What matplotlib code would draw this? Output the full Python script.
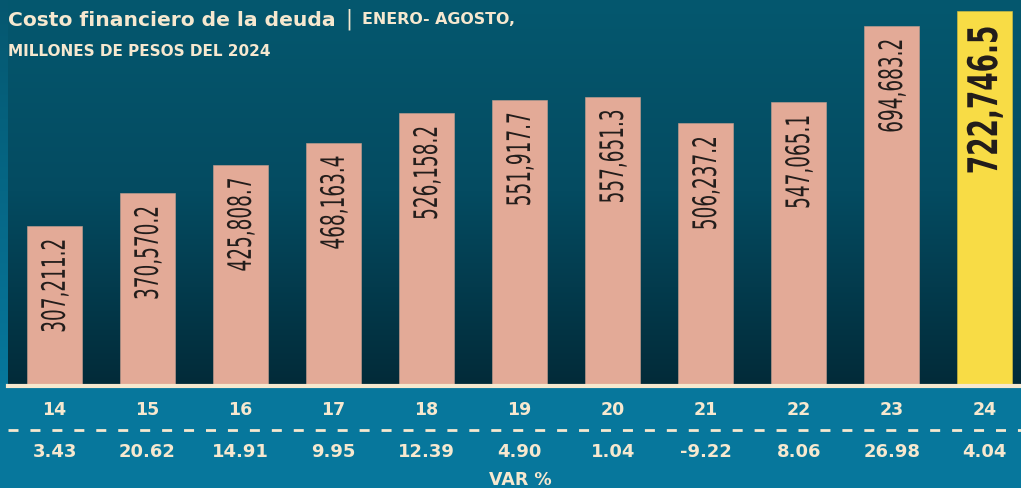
import numpy as np
import matplotlib
matplotlib.use("Agg")
import matplotlib.pyplot as plt
from matplotlib.colors import LinearSegmentedColormap
from matplotlib.transforms import blended_transform_factory, Affine2D
from matplotlib.lines import Line2D
from matplotlib.patheffects import AbstractPathEffect

years = ['14', '15', '16', '17', '18', '19', '20', '21', '22', '23', '24']
values = [307211.2, 370570.2, 425808.7, 468163.4, 526158.2, 551917.7,
          557651.3, 506237.2, 547065.1, 694683.2, 722746.5]
var_pct = ['3.43', '20.62', '14.91', '9.95', '12.39', '4.90', '1.04',
           '-9.22', '8.06', '26.98', '4.04']


class Condense(AbstractPathEffect):
    """Stretch glyph height (relative to text length) to mimic a condensed face."""

    def __init__(self, s):
        super().__init__()
        self.s = s

    def draw_path(self, renderer, gc, tpath, affine, rgbFace=None):
        ext = tpath.get_extents()
        cy = (ext.y0 + ext.y1) / 2
        aff = Affine2D().translate(0, -cy).scale(1, self.s).translate(0, cy) + affine
        renderer.draw_path(gc, tpath, aff, rgbFace)


W, H = 1021, 489
fig = plt.figure(figsize=(W / 100, H / 100), dpi=100)
fig.patch.set_facecolor('#07779c')

CREAM = '#f6e8cf'
SALMON = '#e3aa97'
YELLOW = '#f8dc45'
FONT = 'DejaVu Sans'

# left strip gradient
strip = fig.add_axes([0, (H - 385) / H, 8 / W, 385 / H])
strip.set_axis_off()
cm_strip = LinearSegmentedColormap.from_list('s', ['#05576f', '#07779c'])
strip.imshow(np.linspace(0, 1, 256).reshape(-1, 1), aspect='auto', cmap=cm_strip,
             extent=[0, 1, 0, 1], origin='upper')

# main panel
ax = fig.add_axes([8 / W, (H - 385) / H, (W - 8) / W, 385 / H])
ax.set_axis_off()
x = np.arange(len(years))
ax.set_xlim(-0.5, 10.39)
ax.set_ylim(0, 385 * 1940)
cm = LinearSegmentedColormap.from_list('g', ['#05586f', '#044b61', '#022b39'])
ax.imshow(np.linspace(0, 1, 256).reshape(-1, 1), aspect='auto', cmap=cm,
          extent=[-0.5, 10.39, 0, 385 * 1940], origin='upper', zorder=0)

colors = [SALMON] * (len(years) - 1) + [YELLOW]
bars = ax.bar(x, values, width=0.59, color=colors, edgecolor='#c9a090',
              linewidth=0.4, zorder=2)
bars[-1].set_edgecolor('#d8c040')

for i, v in enumerate(values):
    last = i == len(values) - 1
    t = ax.annotate(f"{v:,.1f}", (x[i], v), xytext=(1, -14 if last else -13),
                    textcoords='offset pixels', rotation=90, ha='center', va='top',
                    color='#231d1b',
                    fontsize=19 if last else 13.3,
                    fontweight='bold' if last else 'normal',
                    family=FONT, zorder=3)
    t.set_path_effects([Condense(1.55 if last else 1.75)])

# baseline
fig.add_artist(Line2D([8 / W, 1], [1 - 387 / H, 1 - 387 / H], color=CREAM, lw=3,
                      transform=fig.transFigure))

tr = blended_transform_factory(ax.transData, fig.transFigure)
for i, yl in enumerate(years):
    ax.text(x[i], 1 - 410 / H, yl, transform=tr, ha='center', va='center',
            color=CREAM, fontsize=12.5, fontweight='bold', family=FONT, clip_on=False)
    ax.text(x[i], 1 - 452 / H, var_pct[i], transform=tr, ha='center', va='center',
            color=CREAM, fontsize=13, fontweight='bold', family=FONT, clip_on=False)

fig.add_artist(Line2D([8 / W, 1], [1 - 431 / H, 1 - 431 / H], color=CREAM, lw=2,
                      linestyle=(0, (3.6, 4.3)), transform=fig.transFigure))

fig.text(520 / W, 1 - 480 / H, 'VAR %', ha='center', va='center', color=CREAM,
         fontsize=12.5, fontweight='bold', family=FONT)

# title
fig.text(8 / W, 1 - 20 / H, 'Costo financiero de la deuda', ha='left', va='center',
         color=CREAM, fontsize=14.6, fontweight='bold', family=FONT)
fig.text(345 / W, 1 - 19 / H, '|', ha='left', va='center',
         color=CREAM, fontsize=15, family=FONT)
fig.text(362 / W, 1 - 20 / H, 'ENERO- AGOSTO,', ha='left', va='center',
         color=CREAM, fontsize=11.4, fontweight='bold', family=FONT)
fig.text(8 / W, 1 - 52 / H, 'MILLONES DE PESOS DEL 2024', ha='left', va='center',
         color=CREAM, fontsize=11, fontweight='bold', family=FONT)

fig.savefig('out.png', dpi=100, facecolor=fig.get_facecolor())
